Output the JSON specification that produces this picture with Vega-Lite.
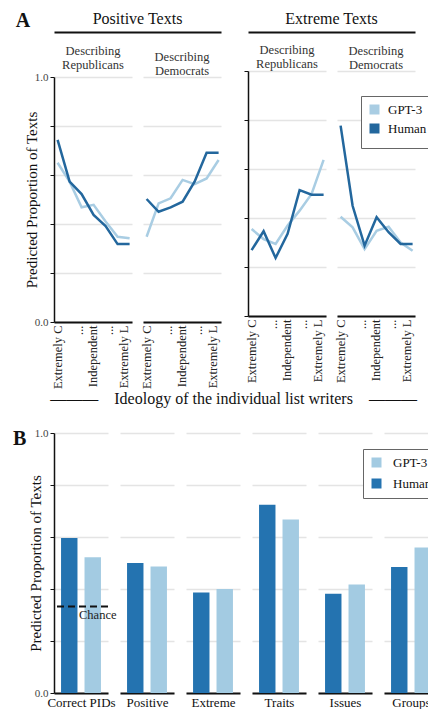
{
  "$schema": "https://vega.github.io/schema/vega-lite/v6.json",
  "padding": {"left": 12, "top": 6, "right": 0, "bottom": 0},
  "background": "white",
  "config": {
    "font": "Liberation Serif",
    "view": {"stroke": null},
    "axis": {"labelFont": "Liberation Serif", "titleFont": "Liberation Serif", "titleFontWeight": "normal", "gridColor": "#e4e4e4", "gridWidth": 1.5, "domainColor": "#111", "tickColor": "#111", "labelColor": "#444", "titleColor": "#111"},
    "title": {"font": "Liberation Serif", "fontWeight": "normal", "color": "#111"},
    "legend": {"labelFont": "Liberation Serif", "labelFontSize": 13, "labelColor": "#111", "symbolType": "square", "strokeColor": "#666", "fillColor": "white", "padding": 7, "rowPadding": 7, "labelOffset": 10, "titlePadding": 0}
  },
  "datasets": {
    "lines": [
      {"type": "Positive", "target": "Republicans", "source": "GPT-3", "ideology": 1, "value": 0.65},
      {"type": "Positive", "target": "Republicans", "source": "GPT-3", "ideology": 2, "value": 0.573},
      {"type": "Positive", "target": "Republicans", "source": "GPT-3", "ideology": 3, "value": 0.468},
      {"type": "Positive", "target": "Republicans", "source": "GPT-3", "ideology": 4, "value": 0.478},
      {"type": "Positive", "target": "Republicans", "source": "GPT-3", "ideology": 5, "value": 0.41},
      {"type": "Positive", "target": "Republicans", "source": "GPT-3", "ideology": 6, "value": 0.348},
      {"type": "Positive", "target": "Republicans", "source": "GPT-3", "ideology": 7, "value": 0.342},
      {"type": "Positive", "target": "Democrats", "source": "GPT-3", "ideology": 1, "value": 0.348},
      {"type": "Positive", "target": "Democrats", "source": "GPT-3", "ideology": 2, "value": 0.484},
      {"type": "Positive", "target": "Democrats", "source": "GPT-3", "ideology": 3, "value": 0.505},
      {"type": "Positive", "target": "Democrats", "source": "GPT-3", "ideology": 4, "value": 0.58},
      {"type": "Positive", "target": "Democrats", "source": "GPT-3", "ideology": 5, "value": 0.563},
      {"type": "Positive", "target": "Democrats", "source": "GPT-3", "ideology": 6, "value": 0.586},
      {"type": "Positive", "target": "Democrats", "source": "GPT-3", "ideology": 7, "value": 0.661},
      {"type": "Extreme", "target": "Republicans", "source": "GPT-3", "ideology": 1, "value": 0.355},
      {"type": "Extreme", "target": "Republicans", "source": "GPT-3", "ideology": 2, "value": 0.314},
      {"type": "Extreme", "target": "Republicans", "source": "GPT-3", "ideology": 3, "value": 0.294},
      {"type": "Extreme", "target": "Republicans", "source": "GPT-3", "ideology": 4, "value": 0.369},
      {"type": "Extreme", "target": "Republicans", "source": "GPT-3", "ideology": 5, "value": 0.43},
      {"type": "Extreme", "target": "Republicans", "source": "GPT-3", "ideology": 6, "value": 0.498},
      {"type": "Extreme", "target": "Republicans", "source": "GPT-3", "ideology": 7, "value": 0.637},
      {"type": "Extreme", "target": "Democrats", "source": "GPT-3", "ideology": 1, "value": 0.405},
      {"type": "Extreme", "target": "Democrats", "source": "GPT-3", "ideology": 2, "value": 0.362},
      {"type": "Extreme", "target": "Democrats", "source": "GPT-3", "ideology": 3, "value": 0.273},
      {"type": "Extreme", "target": "Democrats", "source": "GPT-3", "ideology": 4, "value": 0.348},
      {"type": "Extreme", "target": "Democrats", "source": "GPT-3", "ideology": 5, "value": 0.364},
      {"type": "Extreme", "target": "Democrats", "source": "GPT-3", "ideology": 6, "value": 0.3},
      {"type": "Extreme", "target": "Democrats", "source": "GPT-3", "ideology": 7, "value": 0.266},
      {"type": "Positive", "target": "Republicans", "source": "Human", "ideology": 1, "value": 0.743},
      {"type": "Positive", "target": "Republicans", "source": "Human", "ideology": 2, "value": 0.573},
      {"type": "Positive", "target": "Republicans", "source": "Human", "ideology": 3, "value": 0.522},
      {"type": "Positive", "target": "Republicans", "source": "Human", "ideology": 4, "value": 0.437},
      {"type": "Positive", "target": "Republicans", "source": "Human", "ideology": 5, "value": 0.392},
      {"type": "Positive", "target": "Republicans", "source": "Human", "ideology": 6, "value": 0.318},
      {"type": "Positive", "target": "Republicans", "source": "Human", "ideology": 7, "value": 0.318},
      {"type": "Positive", "target": "Democrats", "source": "Human", "ideology": 1, "value": 0.502},
      {"type": "Positive", "target": "Democrats", "source": "Human", "ideology": 2, "value": 0.45},
      {"type": "Positive", "target": "Democrats", "source": "Human", "ideology": 3, "value": 0.468},
      {"type": "Positive", "target": "Democrats", "source": "Human", "ideology": 4, "value": 0.491},
      {"type": "Positive", "target": "Democrats", "source": "Human", "ideology": 5, "value": 0.573},
      {"type": "Positive", "target": "Democrats", "source": "Human", "ideology": 6, "value": 0.691},
      {"type": "Positive", "target": "Democrats", "source": "Human", "ideology": 7, "value": 0.691},
      {"type": "Extreme", "target": "Republicans", "source": "Human", "ideology": 1, "value": 0.269},
      {"type": "Extreme", "target": "Republicans", "source": "Human", "ideology": 2, "value": 0.346},
      {"type": "Extreme", "target": "Republicans", "source": "Human", "ideology": 3, "value": 0.237},
      {"type": "Extreme", "target": "Republicans", "source": "Human", "ideology": 4, "value": 0.335},
      {"type": "Extreme", "target": "Republicans", "source": "Human", "ideology": 5, "value": 0.514},
      {"type": "Extreme", "target": "Republicans", "source": "Human", "ideology": 6, "value": 0.495},
      {"type": "Extreme", "target": "Republicans", "source": "Human", "ideology": 7, "value": 0.495},
      {"type": "Extreme", "target": "Democrats", "source": "Human", "ideology": 1, "value": 0.777},
      {"type": "Extreme", "target": "Democrats", "source": "Human", "ideology": 2, "value": 0.45},
      {"type": "Extreme", "target": "Democrats", "source": "Human", "ideology": 3, "value": 0.287},
      {"type": "Extreme", "target": "Democrats", "source": "Human", "ideology": 4, "value": 0.403},
      {"type": "Extreme", "target": "Democrats", "source": "Human", "ideology": 5, "value": 0.342},
      {"type": "Extreme", "target": "Democrats", "source": "Human", "ideology": 6, "value": 0.294},
      {"type": "Extreme", "target": "Democrats", "source": "Human", "ideology": 7, "value": 0.294}
    ],
    "bars": [
      {"measure": "Correct PIDs", "source": "Human", "value": 0.596},
      {"measure": "Correct PIDs", "source": "GPT-3", "value": 0.522},
      {"measure": "Positive", "source": "Human", "value": 0.5},
      {"measure": "Positive", "source": "GPT-3", "value": 0.487},
      {"measure": "Extreme", "source": "Human", "value": 0.387},
      {"measure": "Extreme", "source": "GPT-3", "value": 0.4},
      {"measure": "Traits", "source": "Human", "value": 0.724},
      {"measure": "Traits", "source": "GPT-3", "value": 0.667},
      {"measure": "Issues", "source": "Human", "value": 0.382},
      {"measure": "Issues", "source": "GPT-3", "value": 0.417},
      {"measure": "Groups", "source": "Human", "value": 0.485},
      {"measure": "Groups", "source": "GPT-3", "value": 0.56},
      {"measure": "Correct PIDs", "chance": 0.333, "label": "Chance"}
    ]
  },
  "resolve": {"scale": {"color": "independent"}, "legend": {"color": "independent"}},
  "spacing": 20,
  "columns": 1,
  "align": "none",
  "concat": [
    {
      "title": {"text": "A", "orient": "left", "anchor": "end", "angle": 0, "fontSize": 20, "fontWeight": "bold", "offset": -6, "baseline": "top", "align": "left", "dy": 5},
      "resolve": {"scale": {"color": "independent"}, "legend": {"color": "independent"}},
      "hconcat": [
        {
          "title": {"text": "———\u2003Ideology of the individual list writers\u2003———", "orient": "bottom", "fontSize": 16, "offset": 2, "dx": 26},
          "resolve": {"scale": {"color": "independent"}, "legend": {"color": "independent"}},
          "spacing": 19,
          "hconcat": [
            {
              "resolve": {"scale": {"color": "independent"}, "legend": {"color": "independent"}},
              "spacing": 12,
              "vconcat": [
                {
                  "width": 167, "height": 26,
                  "data": {"values": [{"group": "Positive Texts"}]},
                  "mark": {"type": "text", "fontSize": 16, "baseline": "middle", "color": "#111"},
                  "encoding": {
                    "x": {"field": "group", "type": "nominal", "axis": {"orient": "bottom", "labels": false, "ticks": false, "title": null, "domainWidth": 2, "domainColor": "#111", "grid": false}},
                    "y": {"datum": 0.5, "type": "quantitative", "scale": {"domain": [0, 1]},
                      "axis": {"values": [0.5], "labelExpr": "'\u2007\u2008\u2007'", "labelFontSize": 11, "tickSize": 4, "tickOpacity": 0, "domain": false, "grid": false, "title": "\u00a0", "titleFontSize": 15, "titlePadding": -5}},
                    "text": {"field": "group"}
                  }
                },
                {
                  "resolve": {"scale": {"color": "independent"}, "legend": {"color": "independent"}},
                  "spacing": 11,
                  "bounds": "flush",
                  "hconcat": [
                    {
                      "width": 78, "height": 245,
                      "data": {"name": "lines"},
                      "transform": [{"filter": "datum.type === 'Positive' && datum.target === 'Republicans'"}],
                      "title": {"text": ["Describing", "Republicans"], "fontSize": 12.5, "lineHeight": 14, "offset": 0, "color": "#333"},
                      "mark": {"type": "line", "strokeWidth": 2.5},
                      "encoding": {
                        "x": {"field": "ideology", "type": "quantitative", "scale": {"domain": [0.7, 7.2], "nice": false, "zero": false},
                          "axis": {"values": [1, 2.7, 3.9, 5.2, 6.5], "labelExpr": "datum.value == 1 ? 'Extremely C' : datum.value == 3.9 ? 'Independent' : datum.value == 6.5 ? 'Extremely L' : '...'", "labelAngle": 270, "labelAlign": "right", "labelBaseline": "middle", "labelFontSize": 12.5, "labelColor": "#222", "labelPadding": 3, "ticks": false, "grid": false, "domainWidth": 2, "title": null, "labelOverlap": false, "labelFlush": false, "labelBound": false}},
                        "y": {"field": "value", "type": "quantitative", "scale": {"domain": [0, 1], "nice": false},
                          "axis": {"values": [0, 0.2, 0.4, 0.6, 0.8, 1], "labelExpr": "datum.value == 0 || datum.value == 1 ? format(datum.value, '.1f') : ''", "labelFontSize": 11, "tickSize": 4, "domainWidth": 1.5, "title": "Predicted Proportion of Texts", "titleFontSize": 15, "titlePadding": -5}},
                        "color": {"field": "source", "type": "nominal", "scale": {"domain": ["GPT-3", "Human"], "range": ["#a9cde3", "#23679d"]}, "legend": null}
                      }
                    },
                    {
                      "width": 78, "height": 245,
                      "data": {"name": "lines"},
                      "transform": [{"filter": "datum.type === 'Positive' && datum.target === 'Democrats'"}],
                      "title": {"text": ["Describing", "Democrats"], "fontSize": 12.5, "lineHeight": 14, "offset": 0, "color": "#333"},
                      "mark": {"type": "line", "strokeWidth": 2.5},
                      "encoding": {
                        "x": {"field": "ideology", "type": "quantitative", "scale": {"domain": [0.7, 7.2], "nice": false, "zero": false},
                          "axis": {"values": [1, 2.7, 3.9, 5.2, 6.5], "labelExpr": "datum.value == 1 ? 'Extremely C' : datum.value == 3.9 ? 'Independent' : datum.value == 6.5 ? 'Extremely L' : '...'", "labelAngle": 270, "labelAlign": "right", "labelBaseline": "middle", "labelFontSize": 12.5, "labelColor": "#222", "labelPadding": 3, "ticks": false, "grid": false, "domainWidth": 2, "title": null, "labelOverlap": false, "labelFlush": false, "labelBound": false}},
                        "y": {"field": "value", "type": "quantitative", "scale": {"domain": [0, 1], "nice": false},
                          "axis": {"values": [0, 0.2, 0.4, 0.6, 0.8, 1], "labels": false, "ticks": false, "domain": false, "title": null}},
                        "color": {"field": "source", "type": "nominal", "scale": {"domain": ["GPT-3", "Human"], "range": ["#a9cde3", "#23679d"]}, "legend": null}
                      }
                    }
                  ]
                }
              ]
            },
            {
              "resolve": {"scale": {"color": "independent"}, "legend": {"color": "independent"}},
              "spacing": 12,
              "vconcat": [
                {
                  "width": 167, "height": 26,
                  "data": {"values": [{"group": "Extreme Texts"}]},
                  "mark": {"type": "text", "fontSize": 16, "baseline": "middle", "color": "#111"},
                  "encoding": {
                    "x": {"field": "group", "type": "nominal", "axis": {"orient": "bottom", "labels": false, "ticks": false, "title": null, "domainWidth": 2, "domainColor": "#111", "grid": false}},
                    "y": {"datum": 0.5, "type": "quantitative", "scale": {"domain": [0, 1]},
                      "axis": {"values": [0.5], "labels": false, "tickSize": 4, "tickOpacity": 0, "domain": false, "grid": false, "title": null}},
                    "text": {"field": "group"}
                  }
                },
                {
                  "resolve": {"scale": {"color": "independent"}, "legend": {"color": "independent"}},
                  "spacing": 11,
                  "bounds": "flush",
                  "hconcat": [
                    {
                      "width": 78, "height": 245,
                      "data": {"name": "lines"},
                      "transform": [{"filter": "datum.type === 'Extreme' && datum.target === 'Republicans'"}],
                      "title": {"text": ["Describing", "Republicans"], "fontSize": 12.5, "lineHeight": 14, "offset": 0, "color": "#333"},
                      "mark": {"type": "line", "strokeWidth": 2.5},
                      "encoding": {
                        "x": {"field": "ideology", "type": "quantitative", "scale": {"domain": [0.7, 7.2], "nice": false, "zero": false},
                          "axis": {"values": [1, 2.7, 3.9, 5.2, 6.5], "labelExpr": "datum.value == 1 ? 'Extremely C' : datum.value == 3.9 ? 'Independent' : datum.value == 6.5 ? 'Extremely L' : '...'", "labelAngle": 270, "labelAlign": "right", "labelBaseline": "middle", "labelFontSize": 12.5, "labelColor": "#222", "labelPadding": 3, "ticks": false, "grid": false, "domainWidth": 2, "title": null, "labelOverlap": false, "labelFlush": false, "labelBound": false}},
                        "y": {"field": "value", "type": "quantitative", "scale": {"domain": [0, 1], "nice": false},
                          "axis": {"values": [0, 0.2, 0.4, 0.6, 0.8, 1], "labels": false, "tickSize": 4, "domainWidth": 1.5, "title": null}},
                        "color": {"field": "source", "type": "nominal", "scale": {"domain": ["GPT-3", "Human"], "range": ["#a9cde3", "#23679d"]}, "legend": null}
                      }
                    },
                    {
                      "width": 78, "height": 245,
                      "data": {"name": "lines"},
                      "transform": [{"filter": "datum.type === 'Extreme' && datum.target === 'Democrats'"}],
                      "title": {"text": ["Describing", "Democrats"], "fontSize": 12.5, "lineHeight": 14, "offset": 0, "color": "#333"},
                      "mark": {"type": "line", "strokeWidth": 2.5},
                      "encoding": {
                        "x": {"field": "ideology", "type": "quantitative", "scale": {"domain": [0.7, 7.2], "nice": false, "zero": false},
                          "axis": {"values": [1, 2.7, 3.9, 5.2, 6.5], "labelExpr": "datum.value == 1 ? 'Extremely C' : datum.value == 3.9 ? 'Independent' : datum.value == 6.5 ? 'Extremely L' : '...'", "labelAngle": 270, "labelAlign": "right", "labelBaseline": "middle", "labelFontSize": 12.5, "labelColor": "#222", "labelPadding": 3, "ticks": false, "grid": false, "domainWidth": 2, "title": null, "labelOverlap": false, "labelFlush": false, "labelBound": false}},
                        "y": {"field": "value", "type": "quantitative", "scale": {"domain": [0, 1], "nice": false},
                          "axis": {"values": [0, 0.2, 0.4, 0.6, 0.8, 1], "labels": false, "ticks": false, "domain": false, "title": null}},
                        "color": {"field": "source", "type": "nominal", "scale": {"domain": ["GPT-3", "Human"], "range": ["#a9cde3", "#23679d"]},
                          "legend": {"orient": "none", "legendX": 24, "legendY": 25, "title": null, "symbolSize": 25, "symbolStrokeWidth": 5, "rowPadding": -6, "labelOffset": 7, "encode": {"symbols": {"update": {"strokeWidth": {"value": 5}}}}}}
                      }
                    }
                  ]
                }
              ]
            }
          ]
        }
      ]
    },
    {
      "title": {"text": "B", "orient": "left", "anchor": "end", "angle": 0, "fontSize": 20, "fontWeight": "bold", "offset": 2, "baseline": "top", "align": "left", "dy": 2},
      "data": {"name": "bars"},
      "resolve": {"scale": {"color": "independent"}, "legend": {"color": "independent"}},
      "spacing": 12,
      "bounds": "flush",
      "hconcat": [
        {
          "width": 54, "height": 260,
          "transform": [{"filter": "datum.measure === 'Correct PIDs'"}],
          "layer": [
            {
              "transform": [{"filter": "isValid(datum.value)"}],
              "mark": {"type": "bar"},
              "encoding": {
                "x": {"field": "source", "type": "nominal", "scale": {"domain": ["Human", "GPT-3"], "paddingInner": 0.3, "paddingOuter": 0.3},
                  "axis": {"labels": false, "ticks": false, "title": "Correct PIDs", "titleFontSize": 13, "titlePadding": 3, "domainWidth": 2, "grid": false}},
                "y": {"field": "value", "type": "quantitative", "scale": {"domain": [0, 1], "nice": false},
                  "axis": {"values": [0, 0.2, 0.4, 0.6, 0.8, 1], "labelExpr": "datum.value == 0 || datum.value == 1 ? format(datum.value, '.1f') : ''", "labelFontSize": 11, "tickSize": 4, "domainWidth": 1.5, "title": "Predicted Proportion of Texts", "titleFontSize": 15, "titlePadding": -9}},
                "color": {"field": "source", "type": "nominal", "scale": {"domain": ["GPT-3", "Human"], "range": ["#a3cbe2", "#2473b0"]}, "legend": null}
              }
            },
            {
              "transform": [{"filter": "isValid(datum.chance)"}],
              "mark": {"type": "rule", "strokeDash": [7, 4], "strokeWidth": 2, "color": "#111"},
              "encoding": {"y": {"field": "chance", "type": "quantitative"}}
            },
            {
              "transform": [{"filter": "isValid(datum.chance)"}],
              "mark": {"type": "text", "align": "left", "baseline": "top", "dy": 3, "dx": -2, "fontSize": 12.5, "color": "#222"},
              "encoding": {"y": {"field": "chance", "type": "quantitative"}, "text": {"field": "label"}}
            }
          ]
        },
        {
          "width": 54, "height": 260,
          "transform": [{"filter": "datum.measure === 'Positive'"}],
          "mark": {"type": "bar"},
          "encoding": {
            "x": {"field": "source", "type": "nominal", "scale": {"domain": ["Human", "GPT-3"], "paddingInner": 0.3, "paddingOuter": 0.3},
              "axis": {"labels": false, "ticks": false, "title": "Positive", "titleFontSize": 13, "titlePadding": 3, "domainWidth": 2, "grid": false}},
            "y": {"field": "value", "type": "quantitative", "scale": {"domain": [0, 1], "nice": false},
              "axis": {"values": [0, 0.2, 0.4, 0.6, 0.8, 1], "labels": false, "ticks": false, "domain": false, "title": null}},
            "color": {"field": "source", "type": "nominal", "scale": {"domain": ["GPT-3", "Human"], "range": ["#a3cbe2", "#2473b0"]}, "legend": null}
          }
        },
        {
          "width": 54, "height": 260,
          "transform": [{"filter": "datum.measure === 'Extreme'"}],
          "mark": {"type": "bar"},
          "encoding": {
            "x": {"field": "source", "type": "nominal", "scale": {"domain": ["Human", "GPT-3"], "paddingInner": 0.3, "paddingOuter": 0.3},
              "axis": {"labels": false, "ticks": false, "title": "Extreme", "titleFontSize": 13, "titlePadding": 3, "domainWidth": 2, "grid": false}},
            "y": {"field": "value", "type": "quantitative", "scale": {"domain": [0, 1], "nice": false},
              "axis": {"values": [0, 0.2, 0.4, 0.6, 0.8, 1], "labels": false, "ticks": false, "domain": false, "title": null}},
            "color": {"field": "source", "type": "nominal", "scale": {"domain": ["GPT-3", "Human"], "range": ["#a3cbe2", "#2473b0"]}, "legend": null}
          }
        },
        {
          "width": 54, "height": 260,
          "transform": [{"filter": "datum.measure === 'Traits'"}],
          "mark": {"type": "bar"},
          "encoding": {
            "x": {"field": "source", "type": "nominal", "scale": {"domain": ["Human", "GPT-3"], "paddingInner": 0.3, "paddingOuter": 0.3},
              "axis": {"labels": false, "ticks": false, "title": "Traits", "titleFontSize": 13, "titlePadding": 3, "domainWidth": 2, "grid": false}},
            "y": {"field": "value", "type": "quantitative", "scale": {"domain": [0, 1], "nice": false},
              "axis": {"values": [0, 0.2, 0.4, 0.6, 0.8, 1], "labels": false, "ticks": false, "domain": false, "title": null}},
            "color": {"field": "source", "type": "nominal", "scale": {"domain": ["GPT-3", "Human"], "range": ["#a3cbe2", "#2473b0"]}, "legend": null}
          }
        },
        {
          "width": 54, "height": 260,
          "transform": [{"filter": "datum.measure === 'Issues'"}],
          "mark": {"type": "bar"},
          "encoding": {
            "x": {"field": "source", "type": "nominal", "scale": {"domain": ["Human", "GPT-3"], "paddingInner": 0.3, "paddingOuter": 0.3},
              "axis": {"labels": false, "ticks": false, "title": "Issues", "titleFontSize": 13, "titlePadding": 3, "domainWidth": 2, "grid": false}},
            "y": {"field": "value", "type": "quantitative", "scale": {"domain": [0, 1], "nice": false},
              "axis": {"values": [0, 0.2, 0.4, 0.6, 0.8, 1], "labels": false, "ticks": false, "domain": false, "title": null}},
            "color": {"field": "source", "type": "nominal", "scale": {"domain": ["GPT-3", "Human"], "range": ["#a3cbe2", "#2473b0"]}, "legend": null}
          }
        },
        {
          "width": 54, "height": 260,
          "transform": [{"filter": "datum.measure === 'Groups'"}],
          "mark": {"type": "bar"},
          "encoding": {
            "x": {"field": "source", "type": "nominal", "scale": {"domain": ["Human", "GPT-3"], "paddingInner": 0.3, "paddingOuter": 0.3},
              "axis": {"labels": false, "ticks": false, "title": "Groups", "titleFontSize": 13, "titlePadding": 3, "domainWidth": 2, "grid": false}},
            "y": {"field": "value", "type": "quantitative", "scale": {"domain": [0, 1], "nice": false},
              "axis": {"values": [0, 0.2, 0.4, 0.6, 0.8, 1], "labels": false, "ticks": false, "domain": false, "title": null}},
            "color": {"field": "source", "type": "nominal", "scale": {"domain": ["GPT-3", "Human"], "range": ["#a3cbe2", "#2473b0"]},
              "legend": {"orient": "none", "legendX": -21, "legendY": 16, "title": null, "symbolSize": 100}}
          }
        }
      ]
    }
  ]
}
